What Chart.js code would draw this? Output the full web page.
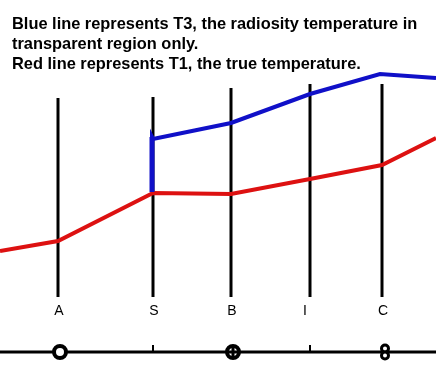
<!DOCTYPE html>
<html>
<head>
<meta charset="utf-8">
<script src="https://cdn.jsdelivr.net/npm/chart.js@4"></script>
<style>
  body { margin: 0; background: #fff; }
  #wrap { position: relative; width: 436px; height: 373px; }
  #note {
    position: absolute; left: 12px; top: 13px;
    font: bold 16.4px "Liberation Sans", Arial, sans-serif;
    line-height: 20px; color: #000;
  }
</style>
</head>
<body>
<div id="wrap">
  <canvas id="chart"></canvas>
  <div id="note">Blue line represents T3, the radiosity temperature in<br>transparent region only.<br>Red line represents T1, the true temperature.</div>
</div>
<script>
// --- data (x = position along the slab, y = temperature, arbitrary units) ---
const regions = ['A', 'S', 'B', 'I', 'C'];
const regionX = [58, 153, 231, 310, 382];
const regionLabelX = [59, 154, 232, 305, 383];
const regionTop = [275, 276, 285, 289, 289];
const regionBottom = 76;
const labelY = 62;

const redX = [0, 58, 153, 231, 310, 382, 436];
const redT = [122, 132, 180, 179, 194, 208, 235];

const blueX = [152, 152, 153, 231, 310, 380, 436];
const blueT = [181, 236, 234, 250, 279, 299, 295];

const axisY = 21;
const axisTickX = [153, 310];
const ringX = [60, 233];
const crossX = [233];
const eightX = 385;

const pts = (xs, ys) => xs.map((x, i) => ({ x: x, y: ys[i] }));

// vertical region boundaries, one small dataset each
const regionSets = regionX.map((x, i) => ({
  data: [{ x: x, y: regionBottom }, { x: x, y: regionTop[i] }],
  borderColor: '#000', borderWidth: 3, pointRadius: 0, order: 5
}));

const tickSets = axisTickX.map(x => ({
  data: [{ x: x, y: axisY }, { x: x, y: axisY + 7 }],
  borderColor: '#000', borderWidth: 2, pointRadius: 0, order: 5
}));

// draws A S B I C under the boundaries
const regionLabels = {
  id: 'regionLabels',
  afterDatasetsDraw(chart) {
    const { ctx, scales } = chart;
    ctx.save();
    ctx.font = '14px "Liberation Sans", Arial, sans-serif';
    ctx.fillStyle = '#000';
    ctx.textAlign = 'center';
    ctx.textBaseline = 'middle';
    regions.forEach((r, i) => {
      ctx.fillText(r, scales.x.getPixelForValue(regionLabelX[i]), scales.y.getPixelForValue(labelY));
    });
    ctx.restore();
  }
};

document.addEventListener('DOMContentLoaded', () => {
  const ctx = document.getElementById('chart').getContext('2d');
  new Chart(ctx, {
    type: 'line',
    data: {
      datasets: [
        ...regionSets,
        // bottom axis
        { data: [{ x: 0, y: axisY }, { x: 436, y: axisY }], borderColor: '#000', borderWidth: 3, pointRadius: 0, order: 5 },
        ...tickSets,
        // region markers on the axis
        { data: ringX.map(x => ({ x: x, y: axisY })), showLine: false, pointRadius: 6, pointBorderWidth: 4,
          pointBackgroundColor: '#fff', pointBorderColor: '#000', order: 3 },
        { data: crossX.map(x => ({ x: x, y: axisY })), showLine: false, pointStyle: 'cross', pointRadius: 7,
          pointBorderWidth: 3, pointBorderColor: '#000', order: 2 },
        { data: [{ x: eightX, y: axisY + 3.5 }, { x: eightX, y: axisY - 3.5 }], showLine: false, pointRadius: 3.5,
          pointBorderWidth: 3, pointBackgroundColor: '#fff', pointBorderColor: '#000', order: 3 },
        { data: [{ x: blueX[0], y: blueT[0] }, { x: blueX[1], y: blueT[1] }], borderColor: '#1010c8', borderWidth: 5,
          pointRadius: 0, order: 0 },
        { label: 'T1', data: pts(redX, redT), borderColor: '#dd1111', borderWidth: 4, pointRadius: 0, order: 1 },
        { label: 'T3', data: pts(blueX, blueT), borderColor: '#1010c8', borderWidth: 4, pointRadius: 0, order: 0 }
      ]
    },
    options: {
      responsive: true,
      maintainAspectRatio: false,
      animation: false,
      layout: { padding: 0, autoPadding: false },
      scales: {
        x: { type: 'linear', min: 0, max: 436, display: false },
        y: { type: 'linear', min: 0, max: 373, display: false }
      },
      plugins: { legend: { display: false }, tooltip: { enabled: false } }
    },
    plugins: [regionLabels]
  });
});
</script>
</body>
</html>
